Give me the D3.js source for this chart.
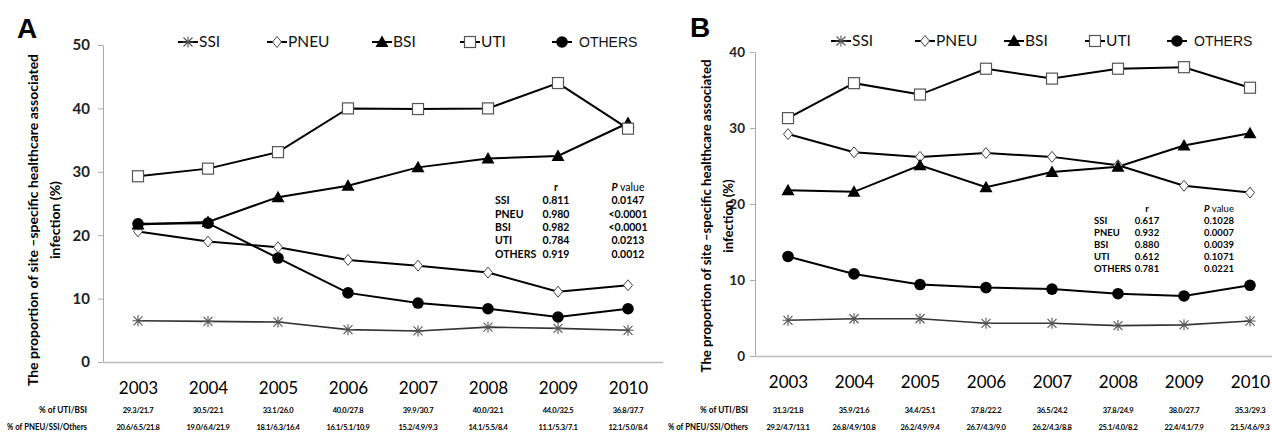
<!DOCTYPE html>
<html>
<head>
<meta charset="utf-8">
<script src="https://cdn.jsdelivr.net/npm/d3@7"></script>
<style>
  body { margin: 0; background: #fff; }
  svg { display: block; }
</style>
</head>
<body>
<svg id="chart" width="1272" height="439"></svg>
<script>
// years on the category axis
const years = [2003, 2004, 2005, 2006, 2007, 2008, 2009, 2010];

// panel A values (%)
const ssiA    = [6.5, 6.4, 6.3, 5.1, 4.9, 5.5, 5.3, 5.0];
const pneuA   = [20.6, 19.0, 18.1, 16.1, 15.2, 14.1, 11.1, 12.1];
const bsiA    = [21.7, 22.1, 26.0, 27.8, 30.7, 32.1, 32.5, 37.7];
const utiA    = [29.3, 30.5, 33.1, 40.0, 39.9, 40.0, 44.0, 36.8];
const othersA = [21.8, 21.9, 16.4, 10.9, 9.3, 8.4, 7.1, 8.4];

// panel B values (%)
const ssiB    = [4.7, 4.9, 4.9, 4.3, 4.3, 4.0, 4.1, 4.6];
const pneuB   = [29.2, 26.8, 26.2, 26.7, 26.2, 25.1, 22.4, 21.5];
const bsiB    = [21.8, 21.6, 25.1, 22.2, 24.2, 24.9, 27.7, 29.3];
const utiB    = [31.3, 35.9, 34.4, 37.8, 36.5, 37.8, 38.0, 35.3];
const othersB = [13.1, 10.8, 9.4, 9.0, 8.8, 8.2, 7.9, 9.3];

// correlation table
const statNames = ["SSI", "PNEU", "BSI", "UTI", "OTHERS"];
const rA = ["0.811", "0.980", "0.982", "0.784", "0.919"];
const pA = ["0.0147", "<0.0001", "<0.0001", "0.0213", "0.0012"];
const rB = ["0.617", "0.932", "0.880", "0.612", "0.781"];
const pB = ["0.1028", "0.0007", "0.0039", "0.1071", "0.0221"];

const ticksA = [0, 10, 20, 30, 40, 50];
const ticksB = [0, 10, 20, 30, 40];

const svg = d3.select("#chart");
const FONT = "Lato, 'Open Sans', sans-serif";

// draw one marker of a given type into a group
function marker(g, type, cx, cy) {
  if (type === "star") {
    const s = 4.5;
    g.append("path")
      .attr("d", `M${cx - s},${cy - s}L${cx + s},${cy + s}M${cx - s},${cy + s}L${cx + s},${cy - s}M${cx},${cy - s - 1}L${cx},${cy + s + 1}M${cx - s - 1},${cy}L${cx + s + 1},${cy}`)
      .style("stroke", "#555").style("stroke-width", 1.1).style("fill", "none");
  } else if (type === "diamond") {
    g.append("path")
      .attr("d", `M${cx},${cy - 5.5}L${cx + 4.5},${cy}L${cx},${cy + 5.5}L${cx - 4.5},${cy}Z`)
      .style("fill", "#fff").style("stroke", "#444").style("stroke-width", 1);
  } else if (type === "triangle") {
    g.append("path")
      .attr("d", `M${cx},${cy - 6.5}L${cx + 6.5},${cy + 5}L${cx - 6.5},${cy + 5}Z`)
      .style("fill", "#000");
  } else if (type === "square") {
    g.append("rect")
      .attr("x", cx - 5.5).attr("y", cy - 5.5).attr("width", 11).attr("height", 11)
      .style("fill", "#fff").style("stroke", "#555").style("stroke-width", 1.2);
  } else {
    g.append("circle").attr("cx", cx).attr("cy", cy).attr("r", 5.8).style("fill", "#000");
  }
}

function drawPanel(p) {
  const g = svg.append("g");

  const x = d3.scalePoint().domain(years).range([p.left, p.left + p.step * years.length]).padding(0.5);
  const y = d3.scaleLinear().domain([0, p.max]).range([p.bottom, p.top]);

  // panel letter
  g.append("text").attr("x", p.letterX).attr("y", p.letterY).text(p.letter)
    .style("font-family", "'Liberation Sans', Arial, sans-serif")
    .style("font-weight", "bold").style("font-size", "28px");

  // y axis
  const yAxis = g.append("g").attr("transform", `translate(${p.left},0)`)
    .call(d3.axisLeft(y).tickValues(p.ticks).tickSize(5).tickSizeOuter(0).tickPadding(p.tickPad));
  yAxis.selectAll("path, line").style("stroke", "#aaa");
  yAxis.selectAll("text")
    .style("font-family", FONT).style("font-weight", "bold")
    .style("font-size", p.tickFont).style("fill", "#222");

  // x axis: line at zero plus year labels
  const xAxis = g.append("g").attr("transform", `translate(0,${p.bottom})`)
    .call(d3.axisBottom(x).tickSize(0).tickPadding(20));
  xAxis.select("path").style("stroke", "#bbb").style("stroke-width", 1.5);
  xAxis.selectAll("text")
    .style("font-family", FONT).style("font-size", "17px").style("fill", "#000");

  // y title
  const tx = g.append("text")
    .attr("transform", `translate(${p.titleX},${p.titleY}) rotate(-90)`)
    .attr("text-anchor", "middle")
    .style("font-family", FONT).style("font-weight", "bold").style("font-size", p.titleFont);
  tx.append("tspan").attr("x", 0).attr("dy", 0).text("The proportion of site \u2013specific healthcare associated");
  tx.append("tspan").attr("x", 0).attr("dy", 22).text("infection (%)");

  // series lines and markers
  const line = d3.line().x((d, i) => x(years[i])).y(d => y(d));
  p.series.forEach(s => {
    g.append("path").datum(s.values).attr("d", line)
      .style("fill", "none").style("stroke", s.type === "star" ? "#333" : "#000")
      .style("stroke-width", s.type === "star" ? 1.6 : 2);
  });
  p.series.forEach(s => {
    s.values.forEach((v, i) => marker(g, s.type, x(years[i]), y(v)));
  });

  // legend
  p.series.forEach((s, i) => {
    const lx = p.legendX[i], ly = p.legendY;
    g.append("line").attr("x1", lx - 10).attr("x2", lx + 10).attr("y1", ly).attr("y2", ly)
      .style("stroke", "#000").style("stroke-width", 2);
    marker(g, s.type, lx, ly);
    g.append("text").attr("x", lx + (s.name === "OTHERS" ? 17 : 11)).attr("y", ly).attr("dy", "0.35em")
      .text(s.name)
      .style("font-family", s.name === "OTHERS" ? "'Liberation Sans', Arial, sans-serif" : FONT)
      .style("font-size", s.name === "OTHERS" ? "14px" : "15.5px")
      .style("fill", "#111");
  });

  // correlation table
  const st = g.append("g").style("font-family", FONT).style("font-weight", "bold").style("font-size", p.statFont);
  st.append("text").attr("x", p.rX).attr("y", p.statY).attr("text-anchor", "middle").text("r");
  const ph = st.append("text").attr("x", p.pX).attr("y", p.statY).attr("text-anchor", "middle");
  ph.append("tspan").style("font-style", "italic").text("P");
  ph.append("tspan").style("font-weight", "normal").text(" value");
  statNames.forEach((n, i) => {
    const yy = p.statY + (i + 1) * p.statStep;
    st.append("text").attr("x", p.nameX).attr("y", yy).text(n);
    st.append("text").attr("x", p.rX).attr("y", yy).attr("text-anchor", "middle").text(p.r[i]);
    st.append("text").attr("x", p.pX).attr("y", yy).attr("text-anchor", "middle").text(p.p[i]);
  });

  // rows of percentages under the axis
  const rows = g.append("g").style("font-family", FONT).style("font-weight", "bold");
  rows.append("text").attr("x", p.rowLabelX).attr("y", 413).attr("text-anchor", "end")
    .attr("textLength", 48).attr("lengthAdjust", "spacingAndGlyphs")
    .style("font-size", "9px").text("% of UTI/BSI");
  rows.append("text").attr("x", p.rowLabelX).attr("y", 430).attr("text-anchor", "end")
    .attr("textLength", 80).attr("lengthAdjust", "spacingAndGlyphs")
    .style("font-size", "9px").text("% of PNEU/SSI/Others");
  years.forEach((yr, i) => {
    rows.append("text").attr("x", x(yr)).attr("y", 413).attr("text-anchor", "middle")
      .style("font-size", "7.5px").style("letter-spacing", "-0.3px")
      .text(p.uti[i].toFixed(1) + "/" + p.bsi[i].toFixed(1));
    rows.append("text").attr("x", x(yr)).attr("y", 430).attr("text-anchor", "middle")
      .style("font-size", "7.5px").style("letter-spacing", "-0.3px")
      .text(p.pneu[i].toFixed(1) + "/" + p.ssi[i].toFixed(1) + "/" + p.others[i].toFixed(1));
  });
}

drawPanel({
  letter: "A", letterX: 17, letterY: 38,
  left: 103, step: 70, top: 45, bottom: 362, max: 50, ticks: ticksA, tickFont: "15px", tickPad: 8,
  titleX: 38, titleY: 220, titleFont: "14px",
  legendX: [188, 277, 382, 470, 562], legendY: 42,
  series: [
    { name: "SSI", type: "star", values: ssiA },
    { name: "PNEU", type: "diamond", values: pneuA },
    { name: "BSI", type: "triangle", values: bsiA },
    { name: "UTI", type: "square", values: utiA },
    { name: "OTHERS", type: "circle", values: othersA }
  ],
  ssi: ssiA, pneu: pneuA, bsi: bsiA, uti: utiA, others: othersA,
  r: rA, p: pA, statFont: "10.5px", nameX: 495, rX: 556, pX: 628, statY: 191, statStep: 13.3,
  rowLabelX: 87
});

drawPanel({
  letter: "B", letterX: 690, letterY: 37,
  left: 755, step: 66, top: 52, bottom: 356, max: 40, ticks: ticksB, tickFont: "13.5px", tickPad: 5,
  titleX: 711, titleY: 216, titleFont: "13.2px",
  legendX: [841, 925, 1014, 1095, 1177], legendY: 41,
  series: [
    { name: "SSI", type: "star", values: ssiB },
    { name: "PNEU", type: "diamond", values: pneuB },
    { name: "BSI", type: "triangle", values: bsiB },
    { name: "UTI", type: "square", values: utiB },
    { name: "OTHERS", type: "circle", values: othersB }
  ],
  ssi: ssiB, pneu: pneuB, bsi: bsiB, uti: utiB, others: othersB,
  r: rB, p: pB, statFont: "9.5px", nameX: 1094, rX: 1147, pX: 1219, statY: 212, statStep: 12,
  rowLabelX: 748
});
</script>
</body>
</html>
